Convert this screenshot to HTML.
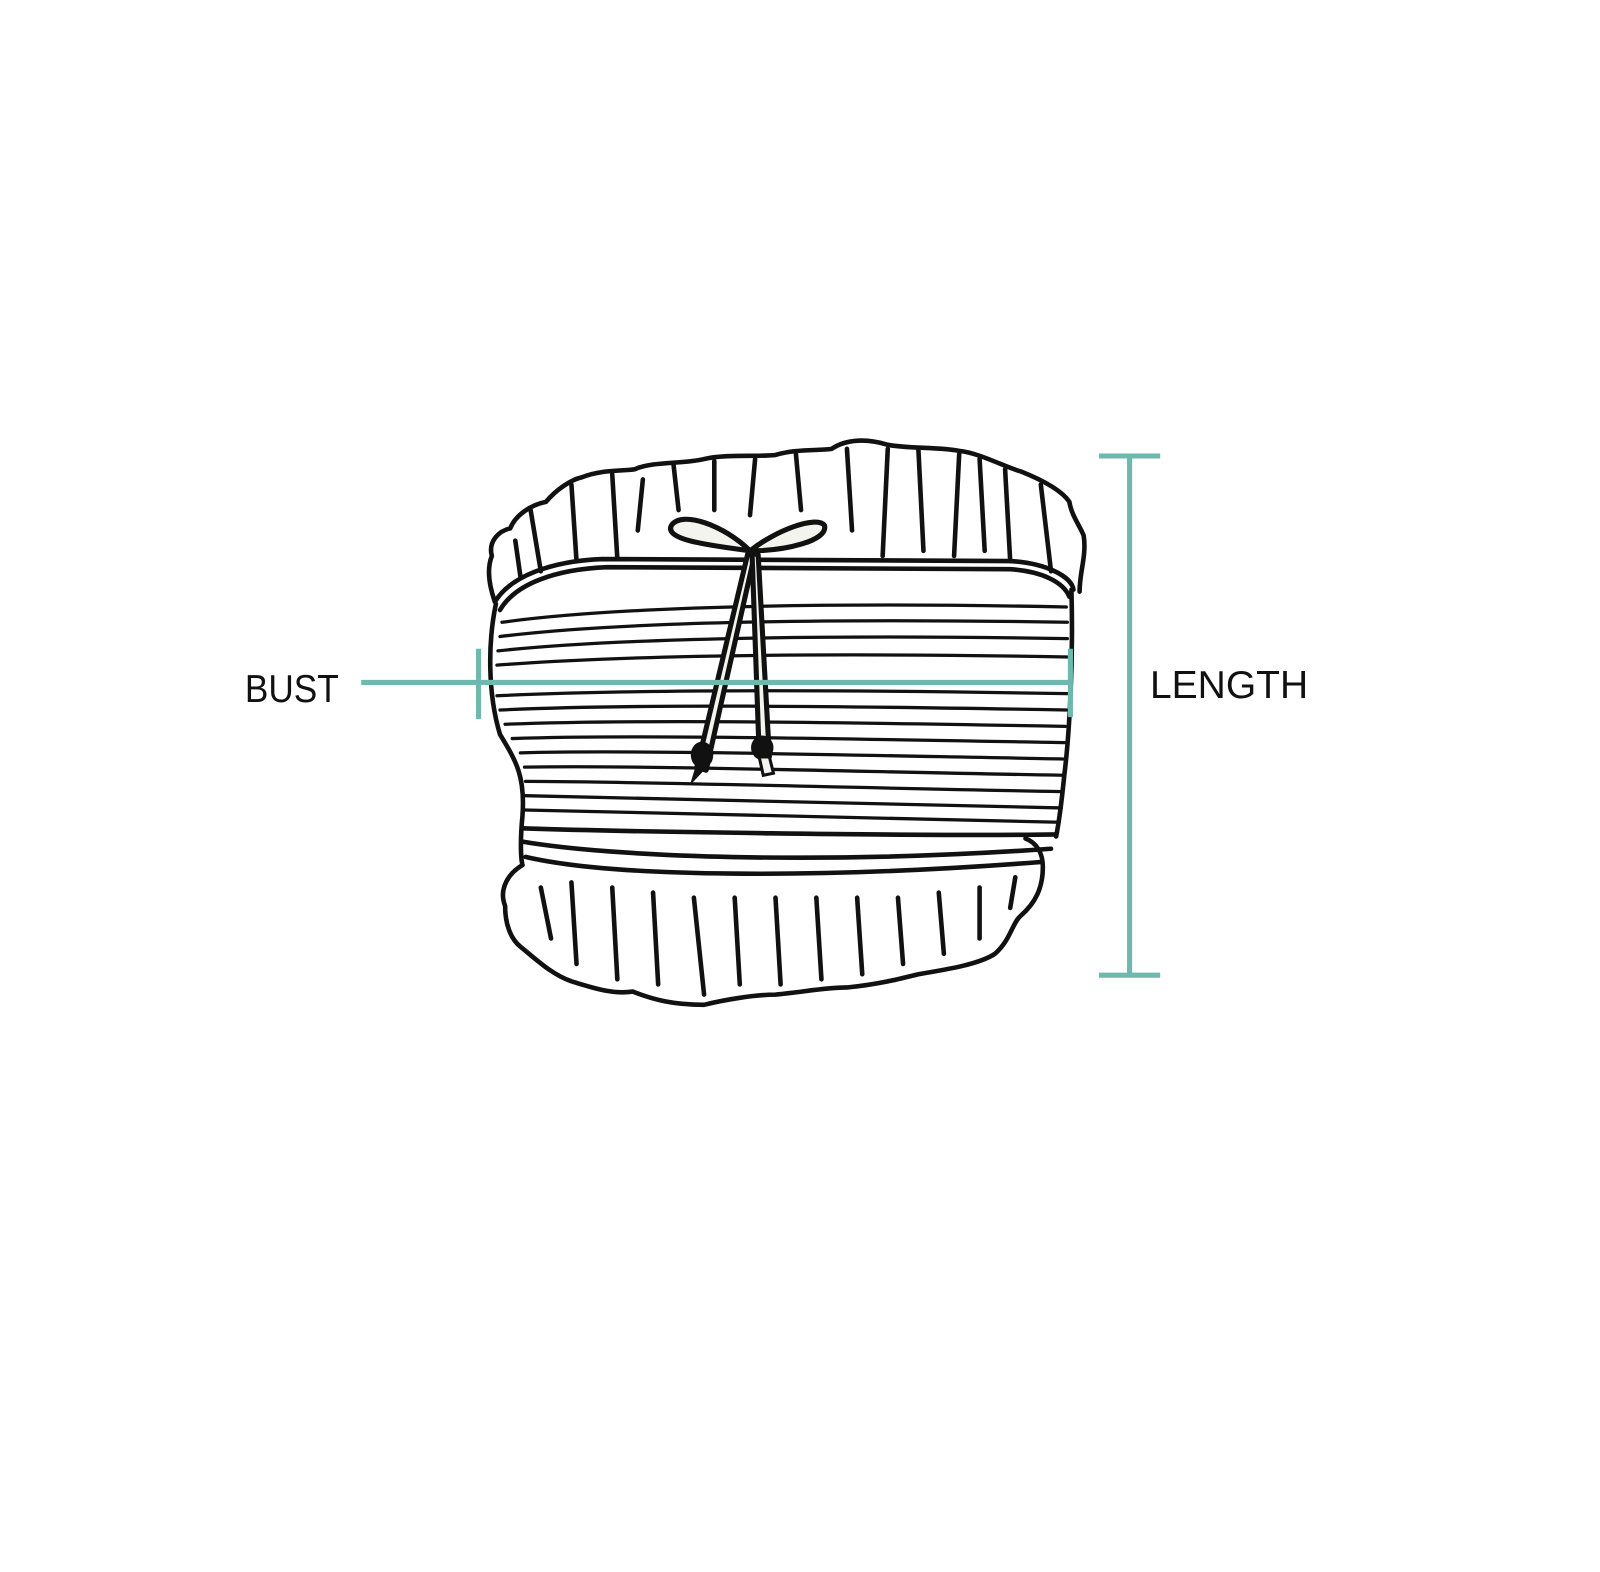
<!DOCTYPE html>
<html><head><meta charset="utf-8"><style>
html,body{margin:0;padding:0;background:#fff;width:1600px;height:1572px;overflow:hidden}
svg{display:block}
</style></head><body>
<svg width="1600" height="1572" viewBox="0 0 1568 1541" preserveAspectRatio="none" xmlns="http://www.w3.org/2000/svg">
<rect width="1568" height="1541" fill="#fff"/>
<g fill="none" stroke="#111" stroke-width="4.5" stroke-linejoin="round" stroke-linecap="round">
<path d="M485,590 C478,570 478,555 482,545 C478,530 490,520 500,518 C505,505 520,495 535,492 C545,480 560,470 570,468 C590,460 610,462 622,460 C640,452 670,455 690,450 C710,445 740,448 760,446 C780,440 800,442 815,440 C830,430 850,430 870,436 C890,440 920,438 940,442 C960,444 985,458 1000,462 C1020,470 1040,480 1048,492 C1050,505 1058,515 1062,525 C1065,545 1058,560 1058,580"/>
<path d="M520,500 L530,560 M560,475 L565,550 M600,465 L605,548 M630,470 L625,520 M660,455 L665,500 M700,452 L700,500 M740,450 L735,505 M780,445 L785,500 M830,440 L835,520 M870,440 L865,545 M900,440 L905,540 M940,445 L935,545 M985,460 L990,550 M1020,475 L1030,560 M505,530 L510,565 M960,450 L965,540"/>
<path d="M485,590 C500,565 540,550 590,548 L990,550 C1025,552 1050,565 1052,578"/>
<path d="M490,598 C505,572 545,558 595,556 L990,558 C1020,560 1042,570 1048,585"/>
<path d="M486,592 C478,630 478,680 490,720 C505,745 515,760 512,800 C510,820 510,840 512,848"/>
<path d="M1050,578 C1052,650 1048,720 1043,760 C1040,790 1038,805 1035,820"/>
<g stroke-width="3.2">
<path d="M492,610 C600,595 800,590 1045,595"/>
<path d="M490,624 C600,610 800,606 1046,610"/>
<path d="M488,638 C600,626 800,622 1046,626"/>
<path d="M487,652 C620,642 820,640 1046,644"/>
<path d="M487,682 C620,676 820,676 1046,680"/>
<path d="M490,696 C620,690 820,692 1045,696"/>
<path d="M495,710 C620,705 820,708 1044,712"/>
<path d="M502,724 C620,720 820,724 1043,728"/>
<path d="M510,738 C620,735 820,740 1042,744"/>
<path d="M514,752 C620,750 820,756 1041,760"/>
<path d="M515,766 C620,766 820,772 1040,776"/>
<path d="M515,780 C620,782 820,788 1040,792"/>
<path d="M514,794 C620,796 820,802 1038,806"/>
</g>
<path d="M512,812 C600,815 900,820 1035,818"/>
<path d="M512,825 C600,840 800,848 1030,832"/>
<path d="M515,840 C600,860 800,862 1020,845"/>
<path d="M512,848 C500,855 488,870 495,888 C495,905 500,920 510,928 C525,940 540,955 560,962 C580,968 600,975 620,972 C640,980 660,985 690,985 C710,980 740,975 760,975 C790,972 810,968 830,968 C860,965 880,960 900,955 C930,950 960,945 975,935 C990,922 992,905 1000,898 C1015,885 1022,870 1022,850 C1022,835 1015,826 1005,822"/>
<path d="M530,870 L540,920 M560,865 L565,945 M600,870 L605,960 M640,875 L645,965 M680,880 L690,975 M720,880 L725,965 M760,880 L765,965 M800,880 L805,960 M840,880 L845,955 M880,880 L885,945 M920,875 L925,935 M960,870 L960,920 M995,860 L990,890"/>
</g>
<g stroke="#111" stroke-width="5" fill="#f4f4ee" stroke-linejoin="round">
<path d="M735,540 C700,535 650,530 658,515 C668,500 710,515 735,540 Z"/>
<path d="M735,540 C760,520 800,505 808,515 C812,530 770,540 735,540 Z"/>
<path d="M733,542 L683,752 L692,755 L739,546 Z"/>
<path d="M737,542 L744,740 L754,742 L743,544 Z"/>
</g>
<g fill="#111">
<ellipse cx="688" cy="740" rx="11" ry="13"/>
<ellipse cx="747" cy="733" rx="11" ry="12"/>
<path d="M682,750 L676,770 L690,755 Z"/>
<path d="M744,742 L748,760 L758,758 L754,742 Z" fill="#f4f4ee" stroke="#111" stroke-width="3"/>
</g>
<g stroke="#6fb8ad" stroke-width="5">
<line x1="354" y1="669" x2="1050" y2="669"/>
<line x1="469" y1="636" x2="469" y2="705"/>
<line x1="1049" y1="636" x2="1049" y2="703"/>
<line x1="1107" y1="447" x2="1107" y2="956"/>
<line x1="1077" y1="447" x2="1137" y2="447"/>
<line x1="1077" y1="956" x2="1137" y2="956"/>
</g>
<g font-family="Liberation Sans, sans-serif" font-size="38" fill="#111">
<text x="240" y="688" textLength="92" lengthAdjust="spacingAndGlyphs">BUST</text>
<text x="1127" y="684" textLength="155" lengthAdjust="spacingAndGlyphs">LENGTH</text>
</g>
</svg>
</body></html>
